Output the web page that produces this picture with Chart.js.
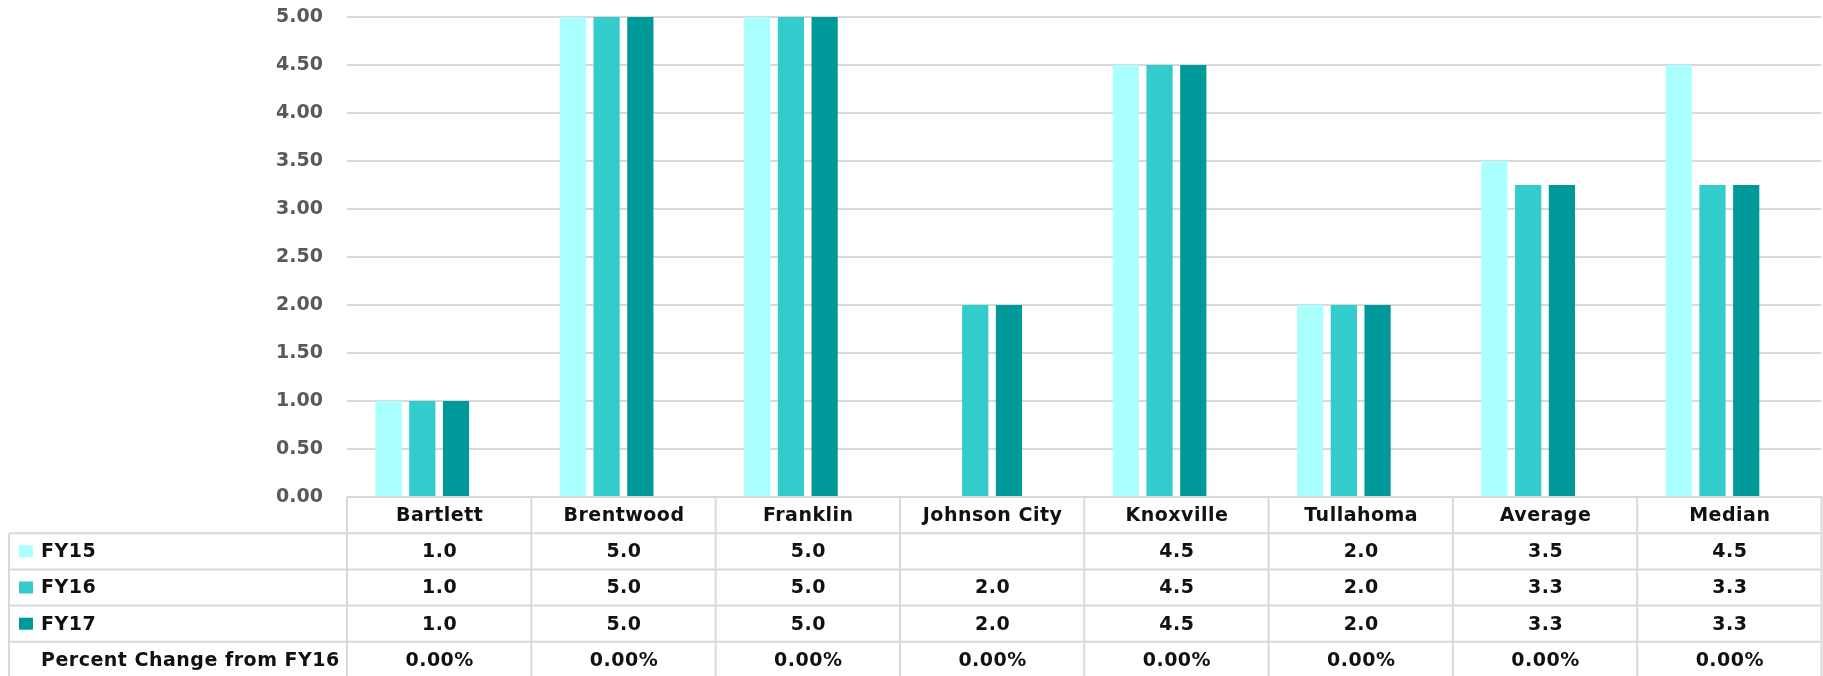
<!DOCTYPE html>
<html>
<head>
<meta charset="utf-8">
<title>FY15-FY17 comparison</title>
<script src="https://cdn.jsdelivr.net/npm/chart.js@4.4.1/dist/chart.umd.min.js"></script>
<style>
    html, body { margin: 0; padding: 0; background: #fff; }
    #wrap { width: 1823px; height: 676px; }
</style>
</head>
<body>
<div id="wrap"><canvas id="chart" width="1823" height="676"></canvas></div>
<script>
// chart data
const cities = ['Bartlett', 'Brentwood', 'Franklin', 'Johnson City', 'Knoxville', 'Tullahoma', 'Average', 'Median'];
const fy15 = [1.0, 5.0, 5.0, null, 4.5, 2.0, 3.5, 4.5];
const fy16 = [1.0, 5.0, 5.0, 2.0, 4.5, 2.0, 3.25, 3.25];
const fy17 = [1.0, 5.0, 5.0, 2.0, 4.5, 2.0, 3.25, 3.25];
const pctChange = [0, 0, 0, 0, 0, 0, 0, 0];
const yTicks = [0, 0.5, 1, 1.5, 2, 2.5, 3, 3.5, 4, 4.5, 5];

const seriesColors = ['#aaffff', '#33cccc', '#009999'];
const lineColor = '#d9d9d9';
const tableFont = 'bold 19px "DejaVu Sans"';

// data table drawn under the plot, lined up with the category columns
const dataTable = {
    id: 'dataTable',
    afterDraw(chart) {
        const ctx = chart.ctx;
        const area = chart.chartArea;
        const colW = (area.right - area.left) / cities.length;
        const rowH = 36.2;
        const top = area.bottom;
        const legendLeft = 9;
        const rows = chart.data.datasets;
        const bottom = top + rowH * (rows.length + 1);

        ctx.save();
        ctx.strokeStyle = lineColor;
        ctx.lineWidth = 2;
        ctx.beginPath();
        // header row
        ctx.moveTo(area.left, top);
        ctx.lineTo(area.right, top);
        for (let i = 0; i <= cities.length; i++) {
            const x = area.left + i * colW;
            ctx.moveTo(x, top);
            ctx.lineTo(x, bottom);
        }
        // series rows
        for (let r = 1; r <= rows.length + 1; r++) {
            const y = top + r * rowH;
            ctx.moveTo(legendLeft, y);
            ctx.lineTo(area.right, y);
        }
        ctx.moveTo(legendLeft, top + rowH);
        ctx.lineTo(legendLeft, bottom);
        ctx.stroke();

        ctx.font = tableFont;
        ctx.letterSpacing = '0.5px';
        ctx.fillStyle = '#111';
        ctx.textBaseline = 'middle';
        ctx.textAlign = 'center';
        cities.forEach((c, i) => {
            ctx.fillText(c, area.left + (i + 0.5) * colW + 0.5, top + rowH / 2 + 1);
        });

        rows.forEach((ds, r) => {
            const cy = top + (r + 1.5) * rowH + 1;
            if (ds.showKey) {
                ctx.fillStyle = ds.backgroundColor;
                ctx.fillRect(19, cy - 7, 14, 12);
            }
            ctx.fillStyle = '#111';
            ctx.textAlign = 'left';
            ctx.fillText(ds.label, 41, cy);
            ctx.textAlign = 'center';
            ds.data.forEach((v, i) => {
                if (v === null) return;
                ctx.fillText(ds.format(v), area.left + (i + 0.5) * colW + 0.5, cy);
            });
        });
        ctx.restore();
    }
};

const oneDecimal = v => v.toFixed(1);
const percent = v => (v * 100).toFixed(2) + '%';

new Chart(document.getElementById('chart').getContext('2d'), {
    type: 'bar',
    data: {
        labels: cities,
        datasets: [
            { label: 'FY15', data: fy15, backgroundColor: seriesColors[0], showKey: true, format: oneDecimal },
            { label: 'FY16', data: fy16, backgroundColor: seriesColors[1], showKey: true, format: oneDecimal },
            { label: 'FY17', data: fy17, backgroundColor: seriesColors[2], showKey: true, format: oneDecimal },
            { label: 'Percent Change from FY16', data: pctChange, backgroundColor: 'rgba(0,0,0,0)', showKey: false, format: percent }
        ]
    },
    options: {
        responsive: false,
        animation: false,
        devicePixelRatio: 1,
        categoryPercentage: 0.732,
        barPercentage: 0.777,
        layout: { padding: { top: 17, bottom: 179, left: 0, right: 1.5 } },
        plugins: { legend: { display: false }, tooltip: { enabled: false } },
        scales: {
            x: { display: false },
            y: {
                min: 0,
                max: 5,
                afterBuildTicks: scale => { scale.ticks = yTicks.map(v => ({ value: v })); },
                afterFit: scale => {
                    scale.width = 347;
                    scale.paddingTop = 0;
                    scale.paddingBottom = 0;
                },
                border: { display: false },
                grid: { color: lineColor, lineWidth: 2, drawTicks: false },
                ticks: {
                    padding: 24,
                    color: '#595959',
                    font: { family: 'DejaVu Sans', size: 19, weight: 'bold' },
                    callback: v => v.toFixed(2)
                }
            }
        }
    },
    plugins: [dataTable]
});
</script>
</body>
</html>
